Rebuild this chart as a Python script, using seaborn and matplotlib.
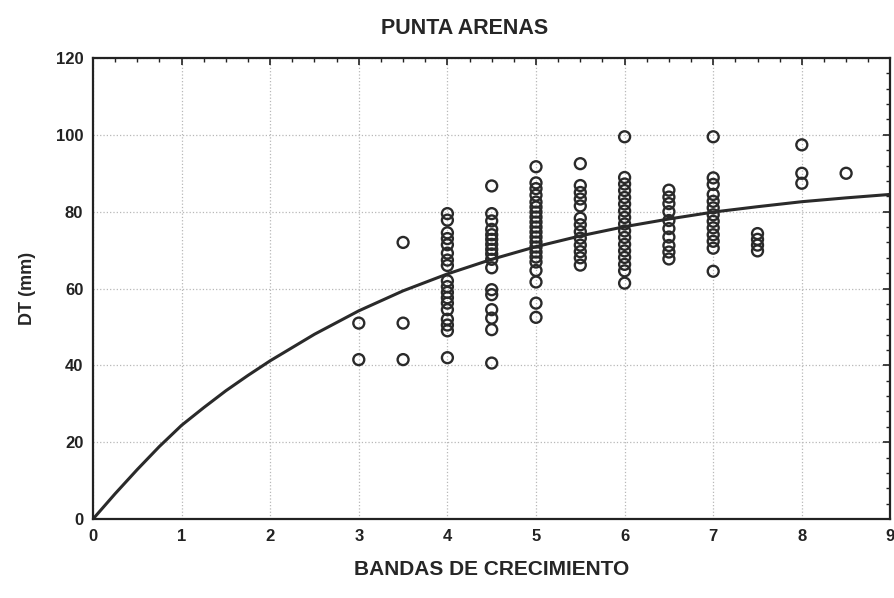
import numpy as np
import pandas as pd
import matplotlib
matplotlib.use("Agg")
import matplotlib.pyplot as plt
from matplotlib.ticker import MultipleLocator
import seaborn as sns

bands = [3, 3.5, 4, 4.5, 5, 5.5, 6, 6.5, 7, 7.5, 8, 8.5]
dt_30 = [51, 41.5]
dt_35 = [72, 51, 41.5]
dt_40 = [79.5, 77.8, 74.5, 73, 71.4, 69.2, 67.4, 66, 62, 60.5, 59, 57.6, 56.2, 54.5, 52, 50.5, 49, 42]
dt_45 = [86.7, 79.5, 77.6, 75.4, 74, 72.8, 71.5, 70.2, 69, 67.6, 65.4, 59.7, 58.4, 54.5, 52.3, 49.3, 40.6]
dt_50 = [91.7, 87.5, 86, 84.3, 82.5, 81.2, 79.9, 78.6, 77.3, 76, 74.7, 73.4, 72.1, 70.8,
         69.5, 68.2, 66.9, 64.7, 61.7, 56.2, 52.5]
dt_55 = [92.5, 86.8, 85, 83.3, 81.5, 78.3, 76.6, 74.8, 73.1, 71.3, 69.6, 68, 66.1]
dt_60 = [99.5, 88.9, 87.2, 85.5, 83.7, 82, 80.2, 78.5, 76.8, 75, 73.3, 71.5, 69.8, 68.1,
         66.3, 64.6, 61.4]
dt_65 = [85.6, 83.8, 82.1, 80, 77.7, 75.6, 73.4, 71.2, 69.5, 67.7]
dt_70 = [99.5, 88.8, 87.1, 84.5, 82.7, 81, 79.2, 77.5, 75.8, 74, 72.3, 70.5, 64.5]
dt_75 = [74.3, 72.8, 71.3, 69.8]
dt_80 = [97.4, 90, 87.4]
dt_85 = [90]

# Fitted growth curve
curve_x = [0, 0.25, 0.5, 0.75, 1, 1.25, 1.5, 1.75, 2, 2.5, 3, 3.5, 4, 4.5, 5, 5.5, 6,
           6.5, 7, 7.5, 8, 8.5, 9]
curve_y = [0, 6.6, 12.9, 18.9, 24.4, 29.0, 33.4, 37.4, 41.2, 48.1, 54.2, 59.4, 63.8, 67.6,
           70.9, 73.7, 76.1, 78.1, 79.9, 81.3, 82.6, 83.6, 84.5]

columns = [dt_30, dt_35, dt_40, dt_45, dt_50, dt_55, dt_60, dt_65, dt_70, dt_75, dt_80, dt_85]
obs = pd.DataFrame(
    [(b, v) for b, col in zip(bands, columns) for v in col],
    columns=["bandas", "dt"],
)
curve = pd.DataFrame({"bandas": curve_x, "dt": curve_y})

sns.set_style("white")
plt.rcParams["font.family"] = ["Liberation Sans", "DejaVu Sans"]
plt.rcParams["font.weight"] = "bold"

fig = plt.figure(figsize=(8.94, 5.98), dpi=100)
ax = fig.add_axes([0.104, 0.132, 0.892, 0.771])

# Growth curve and observations
sns.lineplot(data=curve, x="bandas", y="dt", ax=ax, color="#2a2a2a", linewidth=2.2,
             estimator=None, sort=False)
sns.scatterplot(data=obs, x="bandas", y="dt", ax=ax, marker="o", s=62,
                facecolor="none", edgecolor="#2a2a2a", linewidth=1.7, zorder=3)

ax.set_xlim(0, 9)
ax.set_ylim(0, 120)
ax.xaxis.set_major_locator(MultipleLocator(1))
ax.xaxis.set_minor_locator(MultipleLocator(0.25))
ax.yaxis.set_major_locator(MultipleLocator(20))
ax.yaxis.set_minor_locator(MultipleLocator(4))

ax.grid(True, which="major", linestyle=":", color="#b8b8b8", linewidth=0.9)
ax.tick_params(which="both", direction="in", top=True, right=True, colors="#222222")
ax.tick_params(which="major", length=5, width=1.2, labelsize=12, pad=7)
ax.tick_params(which="minor", length=3, width=1.0)
for lbl in ax.get_xticklabels() + ax.get_yticklabels():
    lbl.set_fontweight("bold")
for sp in ax.spines.values():
    sp.set_color("#222222")
    sp.set_linewidth(1.6)

ax.set_xlabel("BANDAS DE CRECIMIENTO", fontsize=15, fontweight="bold", labelpad=12)
ax.set_ylabel("DT (mm)", fontsize=13, fontweight="bold", labelpad=14)
fig.text(0.52, 0.953, "PUNTA ARENAS", ha="center", va="center", fontsize=15.5,
         fontweight="bold")

fig.savefig("out.png", dpi=100)
